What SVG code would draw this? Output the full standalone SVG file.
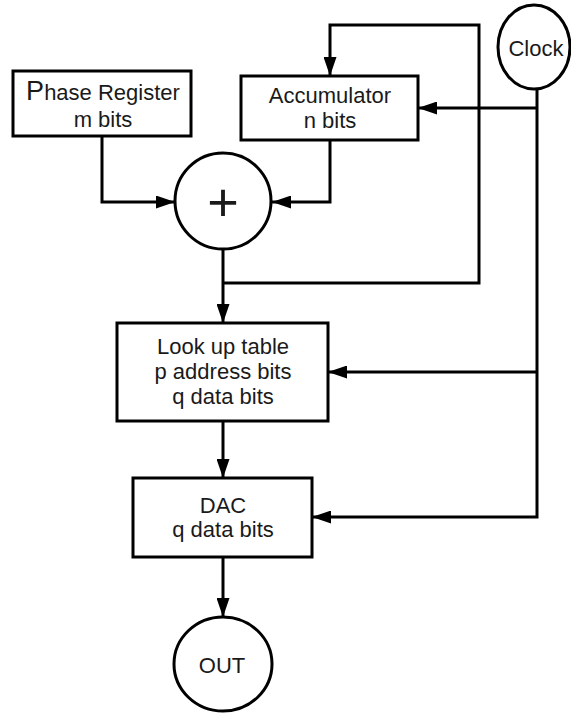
<svg xmlns="http://www.w3.org/2000/svg" width="571" height="713" viewBox="0 0 571 713">
<style>
.box{fill:#fff;stroke:#000;stroke-width:3}
.c{fill:none;stroke:#000;stroke-width:3}
.t{font-family:"Liberation Sans",Arial,sans-serif;font-size:22px;fill:#1a1a1a;text-anchor:middle}
</style>
<defs>
<marker id="ah" viewBox="0 0 19 13" refX="19" refY="6.5" markerWidth="19" markerHeight="13" markerUnits="userSpaceOnUse" orient="auto">
<path d="M0,0 L19,6.5 L0,13 z" fill="#000"/>
</marker>
</defs>
<rect width="571" height="713" fill="#fff"/>
<g id="connectors" class="c">
<path d="M102,136 V202 H175" marker-end="url(#ah)"/>
<path d="M330,140 V202 H272" marker-end="url(#ah)"/>
<path d="M223,250 V323" marker-end="url(#ah)"/>
<path d="M223,283 H479 V25 H330 V76" marker-end="url(#ah)"/>
<path d="M537,89 V517 H312" marker-end="url(#ah)"/>
<path d="M537,108 H418" marker-end="url(#ah)"/>
<path d="M537,372 H328" marker-end="url(#ah)"/>
<path d="M223,421 V478" marker-end="url(#ah)"/>
<path d="M223,557 V617" marker-end="url(#ah)"/>
</g>
<g id="phase">
<rect class="box" x="13" y="71" width="178" height="65"/>
<text class="t" x="103" y="100"><tspan font-size="27">P</tspan>hase Register</text>
<text class="t" x="103" y="127">m bits</text>
</g>
<g id="accumulator">
<rect class="box" x="241" y="76" width="177" height="64"/>
<text class="t" x="330" y="103">Accumulator</text>
<text class="t" x="330" y="128">n bits</text>
</g>
<g id="clock">
<ellipse class="box" cx="534" cy="47" rx="36" ry="42"/>
<text class="t" x="536" y="56">Clock</text>
</g>
<g id="adder">
<circle class="box" cx="223" cy="201" r="48"/>
<text class="t" x="223" y="221" font-size="54" style="font-size:54px">+</text>
</g>
<g id="lut">
<rect class="box" x="117" y="323" width="211" height="98"/>
<text class="t" x="223" y="354">Look up table</text>
<text class="t" x="223" y="379">p address bits</text>
<text class="t" x="223" y="404">q data bits</text>
</g>
<g id="dac">
<rect class="box" x="133" y="478" width="179" height="79"/>
<text class="t" x="223" y="513">DAC</text>
<text class="t" x="223" y="537">q data bits</text>
</g>
<g id="out">
<ellipse class="box" cx="223" cy="664" rx="49" ry="47"/>
<text class="t" x="222" y="673">OUT</text>
</g>
</svg>
